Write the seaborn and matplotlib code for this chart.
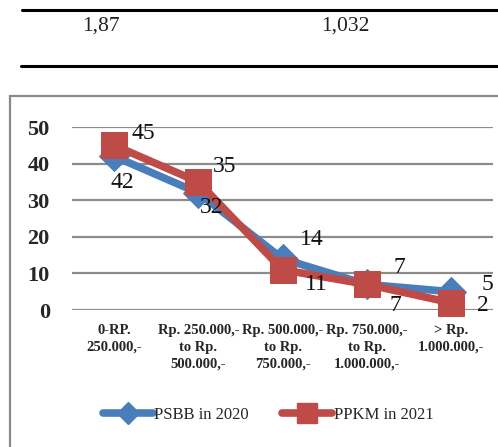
import matplotlib
matplotlib.use("Agg")
import matplotlib.pyplot as plt
import seaborn as sns
import pandas as pd
from matplotlib.patches import Rectangle
from matplotlib.lines import Line2D

categories = ["0-RP.\n250.000,-", "Rp. 250.000,-\nto Rp.\n500.000,-",
              "Rp. 500.000,-\nto Rp.\n750.000,-", "Rp. 750.000,-\nto Rp.\n1.000.000,-",
              "> Rp.\n1.000.000,-"]
psbb_2020 = [42, 32, 14, 7, 5]
ppkm_2021 = [45, 35, 11, 7, 2]
series_names = ["PSBB in 2020", "PPKM in 2021"]
y_ticks = [0, 10, 20, 30, 40, 50]
table_values = ["1,87", "1,032"]

sns.set_theme(style="white")
plt.rcParams['font.family'] = ['Liberation Serif', 'DejaVu Serif']

W, H = 498, 447
fig = plt.figure(figsize=(W / 100, H / 100), dpi=100)

# top table fragment
fig.add_artist(Line2D([22 / W, 1], [1 - 10 / H, 1 - 10 / H], color="black", lw=2.2))
fig.add_artist(Line2D([21 / W, 1], [1 - 66 / H, 1 - 66 / H], color="black", lw=2.2))
fig.text(101 / W, 1 - 26 / H, table_values[0], ha="center", va="center", fontsize=15.5, color="#222222")
fig.text(345 / W, 1 - 26 / H, table_values[1], ha="center", va="center", fontsize=15.5, color="#222222")

# chart border
fig.add_artist(Rectangle((10 / W, -0.01), 1.0, 1 - 96 / H + 0.01, transform=fig.transFigure,
                         fill=False, edgecolor="#8a8a8a", lw=1.6))

ax = fig.add_axes([72 / W, 1 - 310 / H, (493 - 72) / W, (310 - 127) / H])

df = pd.DataFrame({"cat": list(range(len(categories))) * 2,
                   "value": psbb_2020 + ppkm_2021,
                   "series": [series_names[0]] * 5 + [series_names[1]] * 5})

blue = "#4a7ebb"
red = "#be4b48"
sns.lineplot(data=df[df.series == series_names[0]], x="cat", y="value", ax=ax, color=blue,
             lw=5.5, marker="D", markersize=15, markeredgecolor=blue, clip_on=False, legend=False, zorder=3)
sns.lineplot(data=df[df.series == series_names[1]], x="cat", y="value", ax=ax, color=red,
             lw=5.5, marker="s", markersize=19, markeredgecolor=red, clip_on=False, legend=False, zorder=4)

ax.set_xlim(-0.5, len(categories) - 0.5)
ax.set_ylim(0, 50)
ax.set_yticks(y_ticks)
ax.set_yticklabels([str(t) for t in y_ticks], fontsize=16, fontweight="bold")
ax.set_xticks(range(len(categories)))
ax.set_xticklabels(categories, fontsize=10.5, fontweight="bold", linespacing=1.4)
ax.tick_params(axis="y", length=0, pad=16)
ax.tick_params(axis="x", length=0, pad=10)
ax.set_xlabel("")
ax.set_ylabel("")
for s in ax.spines.values():
    s.set_visible(False)
ax.yaxis.grid(True, color="#8c8c8c", lw=1.6)
ax.set_axisbelow(True)
ax.patch.set_alpha(0)

k = 72 / 100
blue_off = [(8, -26), (13, -15), (29, 19), (29, -21), (37, 7)]
red_off = [(29, 12), (26, 15), (34, -15), (33, 17), (32, -3)]
for i, v in enumerate(psbb_2020):
    ax.annotate(str(v), (i, v), xytext=(blue_off[i][0] * k, blue_off[i][1] * k),
                textcoords="offset points", ha="center", va="center", fontsize=17, color="#111111", zorder=6)
for i, v in enumerate(ppkm_2021):
    ax.annotate(str(v), (i, v), xytext=(red_off[i][0] * k, red_off[i][1] * k),
                textcoords="offset points", ha="center", va="center", fontsize=17, color="#111111", zorder=6)

handles = [Line2D([], [], color=blue, lw=5.5, marker="D", markersize=11),
           Line2D([], [], color=red, lw=5.5, marker="s", markersize=15)]
fig.legend(handles, series_names, loc="center", bbox_to_anchor=(268 / W, 1 - 415 / H), ncol=2,
           frameon=False, fontsize=12, handlelength=3.0, handletextpad=0.1, columnspacing=2.0)

fig.savefig("out.png", dpi=100)
